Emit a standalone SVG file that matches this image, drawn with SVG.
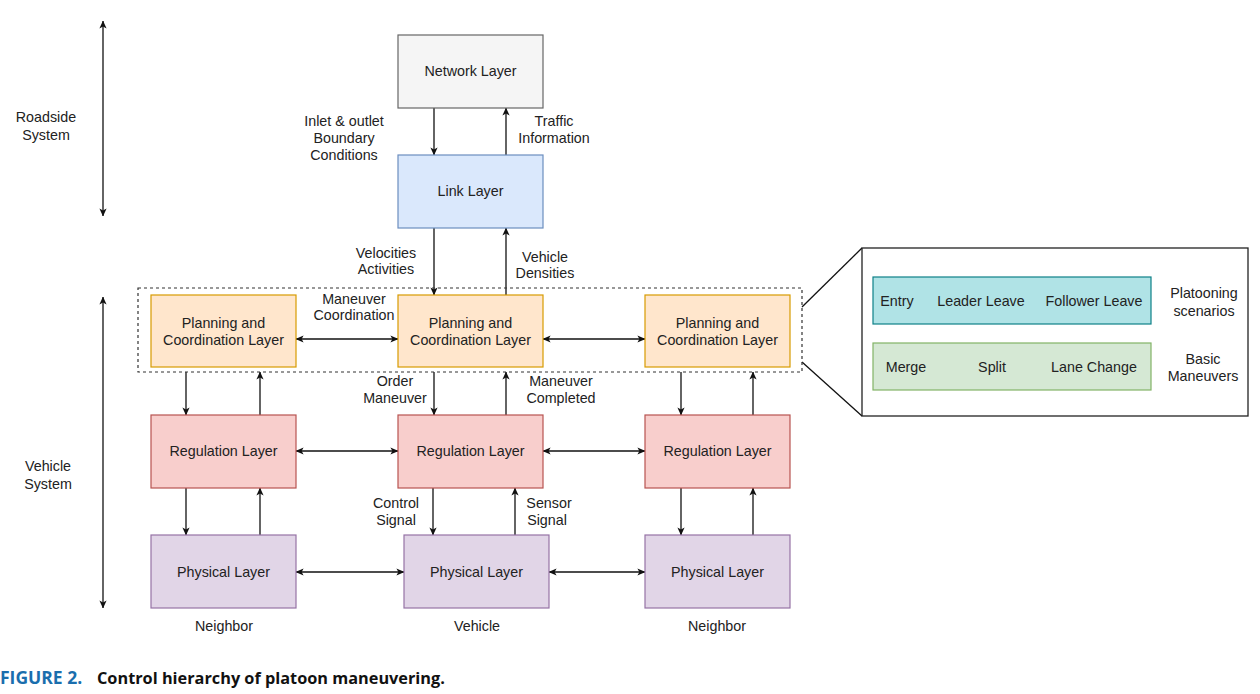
<svg xmlns="http://www.w3.org/2000/svg" width="1260" height="694" viewBox="0 0 1260 694">
<style>
text{font-family:"Liberation Sans",Arial,sans-serif;font-size:14.3px;fill:#222;text-anchor:middle}
.box{stroke-width:1.2}
.net{fill:#f5f5f5;stroke:#666}
.link{fill:#dae8fc;stroke:#6c8ebf}
.plan{fill:#ffe6cc;stroke:#d79b00}
.reg{fill:#f8cecc;stroke:#b85450}
.phy{fill:#e1d5e7;stroke:#9673a6}
.teal{fill:#b0e3e6;stroke:#0e8088}
.green{fill:#d5e8d4;stroke:#82b366}
.c line{stroke:#111;stroke-width:1.3;fill:none}
.e{marker-end:url(#a)}
.b{marker-end:url(#a);marker-start:url(#a)}
</style>
<defs>
<marker id="a" viewBox="0 0 10 10" refX="9.5" refY="5" markerWidth="8" markerHeight="8" markerUnits="userSpaceOnUse" orient="auto-start-reverse">
<path d="M0,0.5 L10,5 L0,9.5 L2.5,5 z" fill="#111"/>
</marker>
</defs>
<rect width="1260" height="694" fill="#fff"/>

<g id="connectors" class="c">
<line class="b" x1="103" y1="21" x2="103" y2="216"/>
<line class="b" x1="103" y1="297" x2="103" y2="608"/>
<line class="e" x1="434" y1="108" x2="434" y2="155"/>
<line class="e" x1="506" y1="155" x2="506" y2="108"/>
<line class="e" x1="434" y1="228" x2="434" y2="295"/>
<line class="e" x1="506" y1="295" x2="506" y2="228"/>
<line class="b" x1="296" y1="339" x2="398" y2="339"/>
<line class="b" x1="543" y1="339" x2="645" y2="339"/>
<line class="e" x1="186" y1="372" x2="186" y2="415"/>
<line class="e" x1="260" y1="415" x2="260" y2="372"/>
<line class="e" x1="434" y1="372" x2="434" y2="415"/>
<line class="e" x1="506" y1="415" x2="506" y2="372"/>
<line class="e" x1="681" y1="372" x2="681" y2="415"/>
<line class="e" x1="753" y1="415" x2="753" y2="372"/>
<line class="b" x1="296" y1="451" x2="398" y2="451"/>
<line class="b" x1="543" y1="451" x2="645" y2="451"/>
<line class="e" x1="186" y1="488" x2="186" y2="535"/>
<line class="e" x1="260" y1="535" x2="260" y2="488"/>
<line class="e" x1="433" y1="488" x2="433" y2="535"/>
<line class="e" x1="515" y1="535" x2="515" y2="488"/>
<line class="e" x1="681" y1="488" x2="681" y2="535"/>
<line class="e" x1="753" y1="535" x2="753" y2="488"/>
<line class="b" x1="296" y1="572" x2="404" y2="572"/>
<line class="b" x1="549" y1="572" x2="645" y2="572"/>
<line x1="802" y1="307" x2="862" y2="248"/>
<line x1="802" y1="362" x2="862" y2="416"/>
</g>

<rect id="dashed-group" x="138" y="288" width="664" height="84" fill="none" stroke="#333" stroke-width="1.2" stroke-dasharray="3 3"/>

<g id="network"><rect class="box net" x="398" y="35" width="145" height="73"/><text x="470.5" y="76">Network Layer</text></g>
<g id="link"><rect class="box link" x="398" y="155" width="145" height="73"/><text x="470.5" y="196">Link Layer</text></g>

<g id="plan-left"><rect class="box plan" x="151" y="295" width="145" height="72"/><text x="223.5" y="328">Planning and</text><text x="223.5" y="345">Coordination Layer</text></g>
<g id="plan-center"><rect class="box plan" x="398" y="295" width="145" height="72"/><text x="470.5" y="328">Planning and</text><text x="470.5" y="345">Coordination Layer</text></g>
<g id="plan-right"><rect class="box plan" x="645" y="295" width="145" height="72"/><text x="717.5" y="328">Planning and</text><text x="717.5" y="345">Coordination Layer</text></g>

<g id="reg-left"><rect class="box reg" x="151" y="415" width="145" height="73"/><text x="223.5" y="456">Regulation Layer</text></g>
<g id="reg-center"><rect class="box reg" x="398" y="415" width="145" height="73"/><text x="470.5" y="456">Regulation Layer</text></g>
<g id="reg-right"><rect class="box reg" x="645" y="415" width="145" height="73"/><text x="717.5" y="456">Regulation Layer</text></g>

<g id="phy-left"><rect class="box phy" x="151" y="535" width="145" height="73"/><text x="223.5" y="577">Physical Layer</text></g>
<g id="phy-center"><rect class="box phy" x="404" y="535" width="145" height="73"/><text x="476.5" y="577">Physical Layer</text></g>
<g id="phy-right"><rect class="box phy" x="645" y="535" width="145" height="73"/><text x="717.5" y="577">Physical Layer</text></g>

<g id="panel">
<rect x="862" y="248" width="386" height="168" fill="#fff" stroke="#222" stroke-width="1.3"/>
<g id="scenarios"><rect class="box teal" x="873" y="277" width="278" height="47"/>
<text x="897" y="306">Entry</text><text x="981" y="306">Leader Leave</text><text x="1094" y="306">Follower Leave</text></g>
<g id="maneuvers"><rect class="box green" x="873" y="343" width="278" height="47"/>
<text x="906" y="372">Merge</text><text x="992" y="372">Split</text><text x="1094" y="372">Lane Change</text></g>
<text x="1204" y="298">Platooning</text><text x="1204" y="316">scenarios</text>
<text x="1203" y="364">Basic</text><text x="1203" y="381">Maneuvers</text>
</g>

<g id="labels">
<text x="46" y="122">Roadside</text><text x="46" y="140">System</text>
<text x="48" y="471">Vehicle</text><text x="48" y="489">System</text>
<text x="344" y="126">Inlet &amp; outlet</text><text x="344" y="143">Boundary</text><text x="344" y="160">Conditions</text>
<text x="554" y="126">Traffic</text><text x="554" y="143">Information</text>
<text x="386" y="258">Velocities</text><text x="386" y="274">Activities</text>
<text x="545" y="262">Vehicle</text><text x="545" y="278">Densities</text>
<text x="354" y="304">Maneuver</text><text x="354" y="320">Coordination</text>
<text x="395" y="386">Order</text><text x="395" y="403">Maneuver</text>
<text x="561" y="386">Maneuver</text><text x="561" y="403">Completed</text>
<text x="396" y="508">Control</text><text x="396" y="525">Signal</text>
<text x="549" y="508">Sensor</text><text x="547" y="525">Signal</text>
<text x="224" y="631">Neighbor</text><text x="477" y="631">Vehicle</text><text x="717" y="631">Neighbor</text>
</g>

<g id="caption" style="font-family:'Open Sans','Liberation Sans',sans-serif;font-weight:bold">
<text x="0" y="684" style="text-anchor:start;font-size:17.5px;fill:#1a6ead;font-family:'Open Sans','Liberation Sans',sans-serif;font-weight:bold">FIGURE 2.</text>
<text x="97" y="684" style="text-anchor:start;font-size:16.3px;fill:#111;font-family:'Open Sans','Liberation Sans',sans-serif;font-weight:bold">Control hierarchy of platoon maneuvering.</text>
</g>
</svg>
